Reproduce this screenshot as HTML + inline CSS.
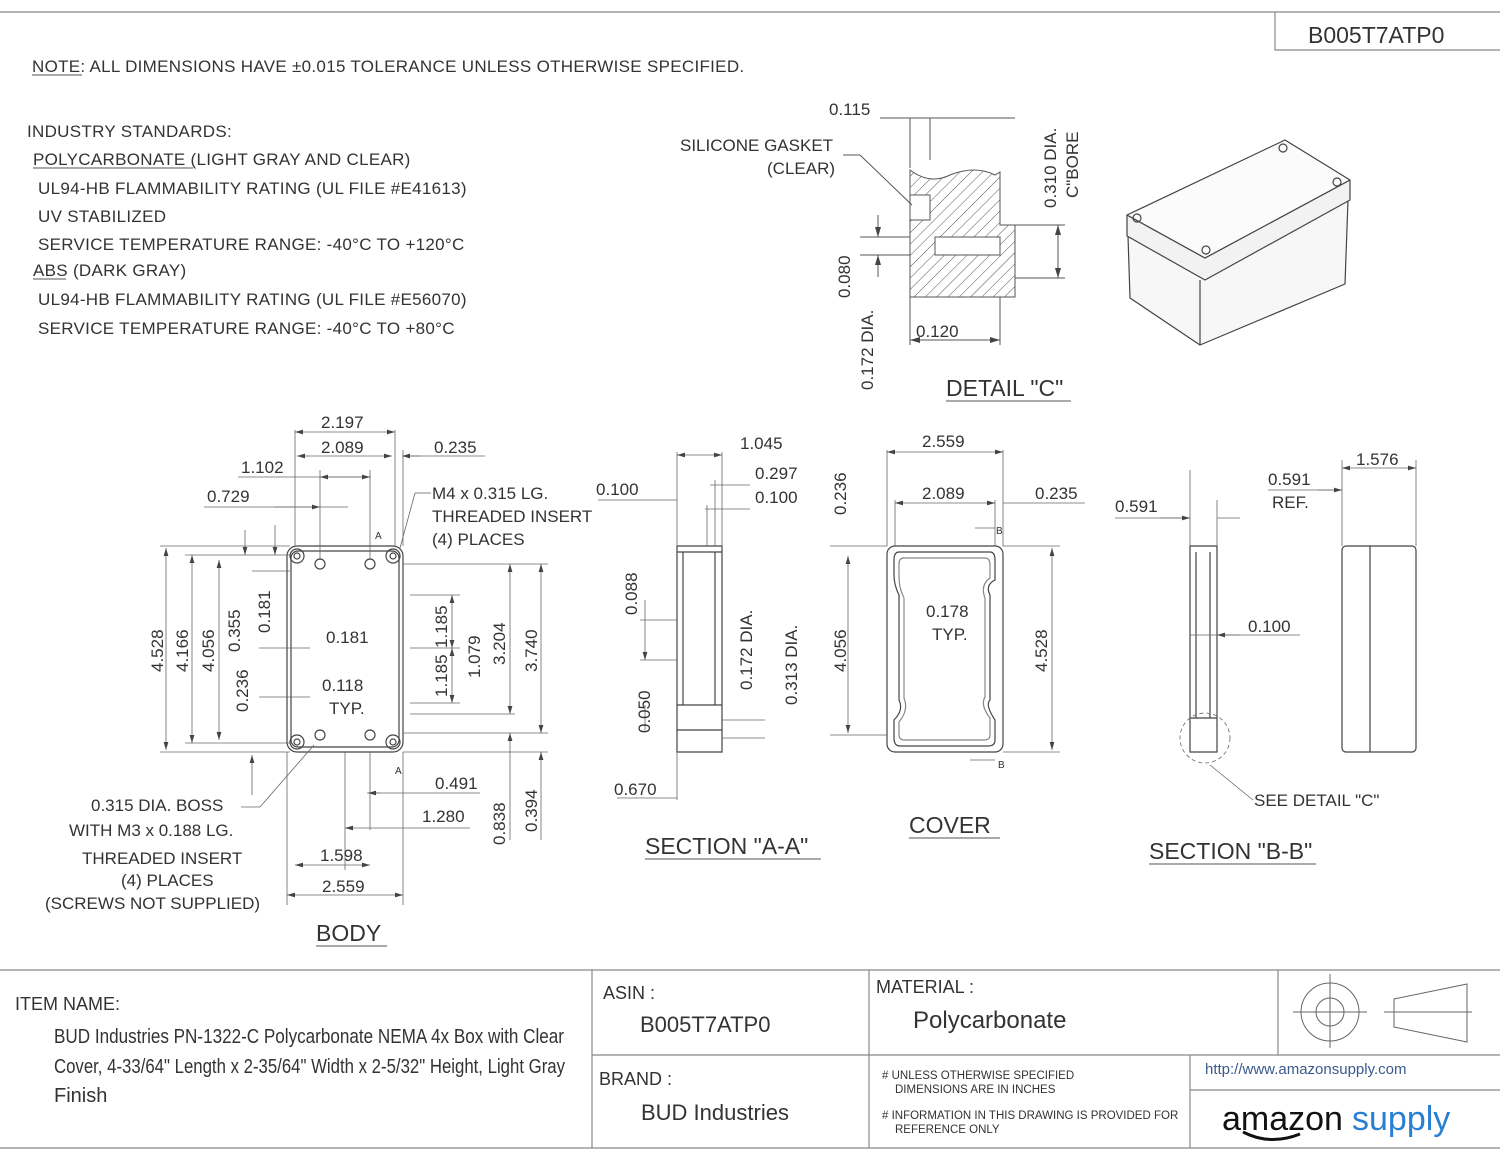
<!DOCTYPE html>
<html><head><meta charset="utf-8"><style>
body{margin:0;background:#fff}
svg{display:block}
text{font-family:"Liberation Sans",sans-serif;fill:#333}
</style></head><body>
<svg width="1500" height="1159" viewBox="0 0 1500 1159" xmlns="http://www.w3.org/2000/svg">
<defs>
<marker id="a" viewBox="0 0 10 6" refX="10" refY="3" markerWidth="10" markerHeight="6" orient="auto-start-reverse"><path d="M0,0 L10,3 L0,6z" fill="#444"/></marker>
<pattern id="h" width="8" height="8" patternUnits="userSpaceOnUse" patternTransform="rotate(45)"><line x1="0" y1="0" x2="0" y2="8" stroke="#555" stroke-width="1"/></pattern>
</defs>
<g stroke="#888" stroke-width="1.2" fill="none">
<line x1="0" y1="12" x2="1500" y2="12"/>
<path d="M1275 12 V50 H1500"/>
<line x1="0" y1="970" x2="1500" y2="970"/>
<line x1="0" y1="1148" x2="1500" y2="1148"/>
<line x1="592" y1="970" x2="592" y2="1148"/>
<line x1="869" y1="970" x2="869" y2="1148"/>
<line x1="1278" y1="970" x2="1278" y2="1055"/>
<line x1="592" y1="1055" x2="1500" y2="1055"/>
<line x1="1190" y1="1055" x2="1190" y2="1148"/>
<line x1="1190" y1="1090" x2="1500" y2="1090"/>
</g>
<g stroke="#666" fill="none" stroke-width="1">
<circle cx="1330" cy="1012" r="29"/><circle cx="1330" cy="1012" r="14"/>
<line x1="1293" y1="1012" x2="1367" y2="1012"/><line x1="1330" y1="974" x2="1330" y2="1048"/>
<path d="M1394 999 L1467 984 V1042 L1394 1027z"/><line x1="1384" y1="1012" x2="1472" y2="1012"/>
</g>
<text x="1308" y="43" font-size="23">B005T7ATP0</text>
<text x="32" y="72" font-size="17" letter-spacing="0.3">NOTE:  ALL DIMENSIONS HAVE ±0.015 TOLERANCE UNLESS OTHERWISE SPECIFIED.</text>
<line x1="32" y1="75" x2="82" y2="75" stroke="#555"/>
<g font-size="17" letter-spacing="0.3">
<text x="27" y="137">INDUSTRY STANDARDS:</text>
<text x="33" y="165">POLYCARBONATE (LIGHT GRAY AND CLEAR)</text>
<text x="38" y="194">UL94-HB FLAMMABILITY RATING (UL FILE #E41613)</text>
<text x="38" y="222">UV STABILIZED</text>
<text x="38" y="250">SERVICE TEMPERATURE RANGE:  -40°C TO +120°C</text>
<text x="33" y="276">ABS (DARK GRAY)</text>
<text x="38" y="305">UL94-HB FLAMMABILITY RATING (UL FILE #E56070)</text>
<text x="38" y="334">SERVICE TEMPERATURE RANGE:  -40°C TO +80°C</text>
</g>
<line x1="33" y1="168" x2="193" y2="168" stroke="#555"/>
<line x1="33" y1="279" x2="66" y2="279" stroke="#555"/>

<!-- DETAIL C -->
<g stroke="#555" fill="none" stroke-width="1">
<path d="M910 170 Q930 185 950 175 Q975 165 995 175 L1000 172 V225 H1015 V297 H910z" fill="url(#h)"/>
<rect x="910" y="195" width="20" height="25" fill="#fff"/>
<rect x="935" y="237" width="65" height="18" fill="#fff"/>
<line x1="880" y1="118" x2="1015" y2="118"/>
<line x1="910" y1="118" x2="910" y2="168"/><line x1="930" y1="118" x2="930" y2="160"/>
<line x1="1015" y1="225" x2="1065" y2="225"/><line x1="1015" y1="278" x2="1065" y2="278"/>
<line x1="1058" y1="225" x2="1058" y2="278" marker-start="url(#a)" marker-end="url(#a)"/>
<line x1="860" y1="237" x2="910" y2="237"/><line x1="860" y1="255" x2="910" y2="255"/>
<line x1="878" y1="215" x2="878" y2="237" marker-end="url(#a)"/><line x1="878" y1="277" x2="878" y2="255" marker-end="url(#a)"/>
<line x1="910" y1="297" x2="910" y2="345"/><line x1="1000" y1="297" x2="1000" y2="345"/>
<line x1="910" y1="340" x2="1000" y2="340" marker-start="url(#a)" marker-end="url(#a)"/>
<line x1="843" y1="155" x2="860" y2="155"/><line x1="860" y1="155" x2="912" y2="205"/>
</g>
<text x="680" y="151" font-size="17">SILICONE GASKET</text>
<text x="767" y="174" font-size="17">(CLEAR)</text>
<text x="829" y="115" font-size="17">0.115</text>
<text x="916" y="337" font-size="17">0.120</text>
<text transform="translate(1056,208) rotate(-90)" font-size="17">0.310 DIA.</text>
<text transform="translate(1078,198) rotate(-90)" font-size="17">C"BORE</text>
<text transform="translate(850,298) rotate(-90)" font-size="17">0.080</text>
<text transform="translate(873,390) rotate(-90)" font-size="17">0.172 DIA.</text>
<text x="946" y="396" font-size="23">DETAIL "C"</text>
<line x1="946" y1="401" x2="1071" y2="401" stroke="#555"/>

<!-- ISO BOX -->
<g stroke="#444" fill="#fafafa" stroke-width="1.2" stroke-linejoin="round">
<path d="M1128 236 L1130 298 L1200 345 L1345 284 L1348 200 L1205 278 Z" fill="#f7f7f7"/>
<path d="M1127 215 L1127 236 L1205 280 L1350 200 L1350 180 L1205 258 Z" fill="#f2f2f2"/>
<path d="M1127 215 L1285 140 L1350 180 L1205 258 Z" fill="#fbfbfb"/>
<line x1="1200" y1="280" x2="1200" y2="345"/>
<circle cx="1137" cy="218" r="4" fill="none"/><circle cx="1206" cy="250" r="4" fill="none"/><circle cx="1337" cy="182" r="4" fill="none"/><circle cx="1283" cy="148" r="4" fill="none"/>
</g>

<!-- BODY -->
<g stroke="#444" fill="none" stroke-width="1.2">
<rect x="287" y="546" width="116" height="206" rx="10"/>
<rect x="291" y="551" width="108" height="196" rx="7"/>
<circle cx="297" cy="556" r="7"/><circle cx="297" cy="556" r="3"/>
<circle cx="393" cy="556" r="7"/><circle cx="393" cy="556" r="3"/>
<circle cx="297" cy="742" r="7"/><circle cx="297" cy="742" r="3"/>
<circle cx="393" cy="742" r="7"/><circle cx="393" cy="742" r="3"/>
<circle cx="320" cy="564" r="5"/><circle cx="370" cy="564" r="5"/><circle cx="320" cy="735" r="5"/><circle cx="370" cy="735" r="5"/>
</g>
<g stroke="#666" fill="none" stroke-width="0.8">
<line x1="295" y1="430" x2="295" y2="546"/><line x1="395" y1="430" x2="395" y2="546"/>
<line x1="295" y1="432" x2="395" y2="432" marker-start="url(#a)" marker-end="url(#a)"/>
<line x1="297" y1="456" x2="392" y2="456" marker-start="url(#a)" marker-end="url(#a)"/>
<line x1="403" y1="456" x2="485" y2="456" /><line x1="402" y1="456" x2="420" y2="456" marker-start="url(#a)"/>
<line x1="403" y1="450" x2="403" y2="546"/>
<line x1="238" y1="477" x2="371" y2="477"/><line x1="320" y1="477" x2="370" y2="477" marker-start="url(#a)" marker-end="url(#a)"/>
<line x1="320" y1="470" x2="320" y2="560"/><line x1="370" y1="470" x2="370" y2="560"/>
<line x1="204" y1="507" x2="348" y2="507"/><line x1="274" y1="507" x2="320" y2="507" marker-end="url(#a)"/>
<line x1="160" y1="546" x2="290" y2="546"/><line x1="185" y1="555" x2="290" y2="555"/><line x1="185" y1="743" x2="290" y2="743"/><line x1="160" y1="752" x2="290" y2="752"/>
<line x1="166" y1="548" x2="166" y2="750" marker-start="url(#a)" marker-end="url(#a)"/>
<line x1="192" y1="555" x2="192" y2="743" marker-start="url(#a)" marker-end="url(#a)"/>
<line x1="219" y1="560" x2="219" y2="740" marker-start="url(#a)" marker-end="url(#a)"/>
<line x1="245" y1="530" x2="245" y2="555" marker-end="url(#a)"/>
<line x1="252" y1="571" x2="290" y2="571"/>
<line x1="275" y1="525" x2="275" y2="555" marker-end="url(#a)"/>
<line x1="252" y1="795" x2="252" y2="755" marker-end="url(#a)"/>
<line x1="259" y1="648" x2="310" y2="648"/><line x1="259" y1="697" x2="310" y2="697"/>
<line x1="403" y1="564" x2="548" y2="564"/><line x1="403" y1="733" x2="548" y2="733"/><line x1="403" y1="752" x2="548" y2="752"/>
<line x1="410" y1="595" x2="460" y2="595"/><line x1="410" y1="648" x2="460" y2="648"/><line x1="410" y1="703" x2="460" y2="703"/><line x1="410" y1="714" x2="515" y2="714"/>
<line x1="452" y1="595" x2="452" y2="648" marker-start="url(#a)" marker-end="url(#a)"/>
<line x1="452" y1="648" x2="452" y2="703" marker-start="url(#a)" marker-end="url(#a)"/>
<line x1="510" y1="564" x2="510" y2="714" marker-start="url(#a)" marker-end="url(#a)"/>
<line x1="541" y1="564" x2="541" y2="733" marker-start="url(#a)" marker-end="url(#a)"/>
<line x1="510" y1="733" x2="510" y2="840" marker-start="url(#a)"/>
<line x1="541" y1="752" x2="541" y2="840" marker-start="url(#a)"/>
<line x1="287" y1="752" x2="287" y2="905"/><line x1="403" y1="752" x2="403" y2="905"/>
<line x1="287" y1="895" x2="403" y2="895" marker-start="url(#a)" marker-end="url(#a)"/>
<line x1="345" y1="752" x2="345" y2="870"/><line x1="370" y1="752" x2="370" y2="830"/>
<line x1="295" y1="865" x2="370" y2="865" marker-start="url(#a)" marker-end="url(#a)"/>
<line x1="345" y1="828" x2="470" y2="828" marker-start="url(#a)"/>
<line x1="367" y1="793" x2="480" y2="793"/><line x1="368" y1="793" x2="380" y2="793" marker-start="url(#a)"/>
<line x1="241" y1="807" x2="260" y2="807"/><line x1="260" y1="807" x2="314" y2="745"/>
<line x1="431" y1="493" x2="415" y2="493"/><line x1="415" y1="493" x2="400" y2="548"/>
</g>
<g font-size="17">
<text x="321" y="428">2.197</text><text x="321" y="453">2.089</text><text x="434" y="453">0.235</text>
<text x="241" y="473">1.102</text><text x="207" y="502">0.729</text>
<text x="432" y="499">M4 x 0.315 LG.</text><text x="432" y="522">THREADED INSERT</text><text x="432" y="545">(4) PLACES</text>
<text x="326" y="643">0.181</text><text x="322" y="691">0.118</text><text x="329" y="714">TYP.</text>
<text x="435" y="789">0.491</text><text x="422" y="822">1.280</text>
<text x="320" y="861">1.598</text><text x="322" y="892">2.559</text>
<text x="91" y="811">0.315 DIA. BOSS</text><text x="69" y="836">WITH M3 x 0.188 LG.</text>
<text x="82" y="864">THREADED INSERT</text><text x="121" y="886">(4) PLACES</text><text x="45" y="909">(SCREWS NOT SUPPLIED)</text>
</g>
<g font-size="17">
<text transform="translate(163,672) rotate(-90)">4.528</text>
<text transform="translate(188,672) rotate(-90)">4.166</text>
<text transform="translate(214,672) rotate(-90)">4.056</text>
<text transform="translate(240,652) rotate(-90)">0.355</text>
<text transform="translate(270,633) rotate(-90)">0.181</text>
<text transform="translate(248,712) rotate(-90)">0.236</text>
<text transform="translate(447,648) rotate(-90)">1.185</text>
<text transform="translate(447,697) rotate(-90)">1.185</text>
<text transform="translate(480,678) rotate(-90)">1.079</text>
<text transform="translate(505,665) rotate(-90)">3.204</text>
<text transform="translate(537,672) rotate(-90)">3.740</text>
<text transform="translate(505,845) rotate(-90)">0.838</text>
<text transform="translate(537,832) rotate(-90)">0.394</text>
</g>
<text x="316" y="941" font-size="23">BODY</text><line x1="316" y1="946" x2="387" y2="946" stroke="#555"/>
<text x="375" y="539" font-size="10">A</text><text x="395" y="774" font-size="10">A</text>

<!-- SECTION A-A -->
<g stroke="#444" fill="none" stroke-width="1.2">
<path d="M677 546 H722 V752 H677z"/>
<line x1="683" y1="552" x2="683" y2="705"/><line x1="715" y1="552" x2="715" y2="705"/>
<line x1="677" y1="552" x2="722" y2="552"/><line x1="677" y1="705" x2="722" y2="705"/><line x1="677" y1="730" x2="722" y2="730"/>
</g>
<g stroke="#666" fill="none" stroke-width="0.8">
<line x1="677" y1="452" x2="677" y2="546"/><line x1="722" y1="452" x2="722" y2="546"/><line x1="715" y1="480" x2="715" y2="546"/><line x1="707" y1="505" x2="707" y2="546"/>
<line x1="677" y1="455" x2="722" y2="455" marker-start="url(#a)" marker-end="url(#a)"/>
<line x1="710" y1="485" x2="750" y2="485"/><line x1="705" y1="509" x2="750" y2="509"/>
<line x1="598" y1="500" x2="677" y2="500"/>
<line x1="640" y1="620" x2="677" y2="620"/><line x1="640" y1="660" x2="677" y2="660"/>
<line x1="645" y1="600" x2="645" y2="660" marker-end="url(#a)"/>
<line x1="645" y1="730" x2="645" y2="705"/>
<line x1="722" y1="720" x2="765" y2="720"/><line x1="722" y1="738" x2="765" y2="738"/>
<line x1="677" y1="752" x2="677" y2="800"/><line x1="617" y1="798" x2="677" y2="798"/>
</g>
<g font-size="17">
<text x="740" y="449">1.045</text><text x="755" y="479">0.297</text><text x="755" y="503">0.100</text><text x="596" y="495">0.100</text><text x="614" y="795">0.670</text>
<text transform="translate(637,615) rotate(-90)">0.088</text>
<text transform="translate(650,733) rotate(-90)">0.050</text>
<text transform="translate(752,690) rotate(-90)">0.172 DIA.</text>
<text transform="translate(797,705) rotate(-90)">0.313 DIA.</text>
</g>
<text x="645" y="854" font-size="23">SECTION "A-A"</text><line x1="645" y1="859" x2="821" y2="859" stroke="#555"/>

<!-- COVER -->
<g stroke="#444" fill="none" stroke-width="1.2">
<rect x="887" y="546" width="116" height="206" rx="8"/>
<path d="M899 552 H990 Q995 552 995 560 V580 Q985 585 990 595 V700 Q985 705 995 720 V740 Q995 746 988 746 H900 Q894 746 894 738 V720 Q904 710 899 700 V595 Q894 585 894 575 V560 Q894 552 899 552z"/>
<path d="M902 558 H985 Q990 558 990 565 V578 Q980 585 985 598 V697 Q980 705 990 718 V735 Q990 740 984 740 H904 Q899 740 899 734 V722 Q909 710 904 698 V598 Q899 588 899 577 V564 Q899 558 904 558z" stroke="#888"/>
</g>
<g stroke="#666" fill="none" stroke-width="0.8">
<line x1="887" y1="450" x2="887" y2="546"/><line x1="1003" y1="450" x2="1003" y2="546"/><line x1="995" y1="500" x2="995" y2="546"/><line x1="895" y1="500" x2="895" y2="546"/>
<line x1="887" y1="452" x2="1003" y2="452" marker-start="url(#a)" marker-end="url(#a)"/>
<line x1="895" y1="503" x2="995" y2="503" marker-start="url(#a)" marker-end="url(#a)"/>
<line x1="1003" y1="503" x2="1085" y2="503"/>
<line x1="1003" y1="546" x2="1060" y2="546"/><line x1="1003" y1="752" x2="1060" y2="752"/>
<line x1="1052" y1="548" x2="1052" y2="750" marker-start="url(#a)" marker-end="url(#a)"/>
<line x1="830" y1="546" x2="887" y2="546"/><line x1="830" y1="735" x2="887" y2="735"/>
<line x1="848" y1="556" x2="848" y2="733" marker-start="url(#a)" marker-end="url(#a)"/>
<line x1="975" y1="528" x2="995" y2="528"/><line x1="970" y1="760" x2="995" y2="760"/>
</g>
<g font-size="17">
<text x="922" y="447">2.559</text><text x="922" y="499">2.089</text><text x="1035" y="499">0.235</text>
<text x="926" y="617">0.178</text><text x="932" y="640">TYP.</text>
<text transform="translate(846,515) rotate(-90)">0.236</text>
<text transform="translate(846,672) rotate(-90)">4.056</text>
<text transform="translate(1047,672) rotate(-90)">4.528</text>
</g>
<text x="996" y="534" font-size="10">B</text><text x="998" y="768" font-size="10">B</text>
<text x="909" y="833" font-size="23">COVER</text><line x1="909" y1="838" x2="1000" y2="838" stroke="#555"/>

<!-- SECTION B-B -->
<g stroke="#444" fill="none" stroke-width="1.2">
<path d="M1190 546 H1217 V752 H1190z"/>
<line x1="1196" y1="552" x2="1196" y2="718"/><line x1="1210" y1="552" x2="1210" y2="718"/>
<line x1="1190" y1="718" x2="1217" y2="718"/>
<rect x="1342" y="546" width="74" height="206" rx="4"/>
<line x1="1370" y1="546" x2="1370" y2="752"/>
</g>
<g stroke="#666" fill="none" stroke-width="0.8">
<circle cx="1205" cy="738" r="25" stroke-dasharray="4 3"/>
<line x1="1190" y1="470" x2="1190" y2="546"/><line x1="1217" y1="500" x2="1217" y2="546"/>
<line x1="1115" y1="518" x2="1190" y2="518" /><line x1="1160" y1="518" x2="1190" y2="518" marker-end="url(#a)"/>
<line x1="1217" y1="518" x2="1240" y2="518"/>
<line x1="1190" y1="635" x2="1300" y2="635"/><line x1="1217" y1="635" x2="1240" y2="635" marker-start="url(#a)"/>
<line x1="1342" y1="460" x2="1342" y2="546"/><line x1="1416" y1="460" x2="1416" y2="546"/>
<line x1="1342" y1="468" x2="1416" y2="468" marker-start="url(#a)" marker-end="url(#a)"/>
<line x1="1268" y1="490" x2="1342" y2="490"/><line x1="1318" y1="490" x2="1342" y2="490" marker-end="url(#a)"/>
<line x1="1253" y1="800" x2="1210" y2="765"/>
</g>
<g font-size="17">
<text x="1356" y="465">1.576</text><text x="1268" y="485">0.591</text><text x="1272" y="508">REF.</text>
<text x="1115" y="512">0.591</text><text x="1248" y="632">0.100</text><text x="1254" y="806">SEE DETAIL "C"</text>
</g>
<text x="1149" y="859" font-size="23">SECTION "B-B"</text><line x1="1149" y1="864" x2="1316" y2="864" stroke="#555"/>

<!-- Title block text -->
<text x="15" y="1010" font-size="18">ITEM NAME:</text>
<g font-size="20" font-family="'Liberation Sans Narrow','Liberation Sans',sans-serif">
<text x="54" y="1043" textLength="510" lengthAdjust="spacingAndGlyphs">BUD Industries PN-1322-C Polycarbonate NEMA 4x Box with Clear</text>
<text x="54" y="1073" textLength="511" lengthAdjust="spacingAndGlyphs">Cover, 4-33/64" Length x 2-35/64" Width x 2-5/32" Height, Light Gray</text>
<text x="54" y="1102">Finish</text>
</g>
<text x="603" y="999" font-size="18">ASIN :</text>
<text x="640" y="1032" font-size="22">B005T7ATP0</text>
<text x="599" y="1085" font-size="18">BRAND :</text>
<text x="641" y="1120" font-size="22">BUD Industries</text>
<text x="876" y="993" font-size="18">MATERIAL :</text>
<text x="913" y="1028" font-size="24">Polycarbonate</text>
<g font-size="11.5">
<text x="882" y="1079"># UNLESS OTHERWISE SPECIFIED</text><text x="895" y="1093">DIMENSIONS ARE IN INCHES</text>
<text x="882" y="1119"># INFORMATION IN THIS DRAWING IS PROVIDED FOR</text><text x="895" y="1133">REFERENCE ONLY</text>
</g>
<text x="1205" y="1074" font-size="15" style="fill:#3b5a8c">http://www.amazonsupply.com</text>
<text x="1222" y="1130" font-size="34" style="fill:#111">amazon</text>
<text x="1352" y="1130" font-size="34" style="fill:#2a7fd4">supply</text>
<path d="M1243 1132 Q1270 1146 1300 1134" stroke="#111" stroke-width="3" fill="none"/>
</svg>
</body></html>
